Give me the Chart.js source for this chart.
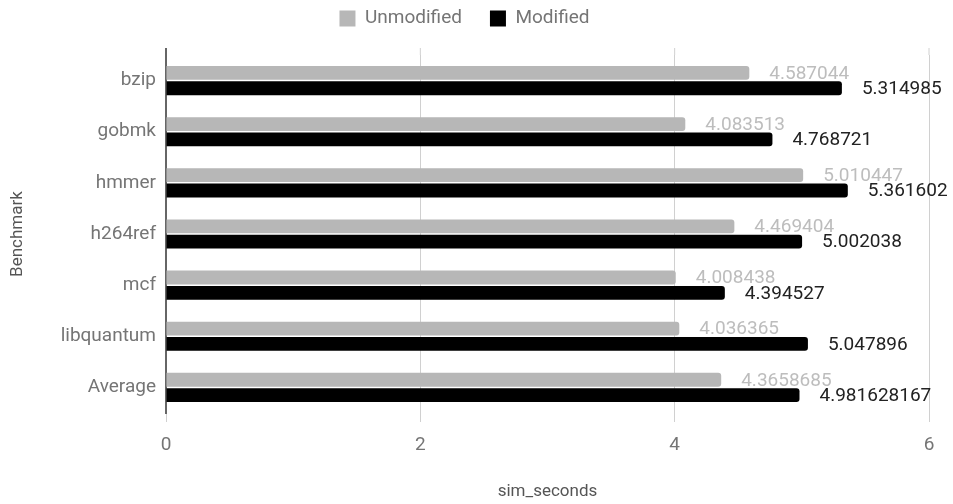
<!DOCTYPE html>
<html>
<head>
<meta charset="utf-8">
<script src="https://cdn.jsdelivr.net/npm/chart.js@4/dist/chart.umd.min.js"></script>
<style>
  html, body { margin: 0; padding: 0; background: #fff; }
  #wrap { width: 953px; height: 504px; }
</style>
</head>
<body>
<div id="wrap"><canvas id="chart"></canvas></div>
<script>
// values
const benchmarks = ['bzip', 'gobmk', 'hmmer', 'h264ref', 'mcf', 'libquantum', 'Average'];
const unmodified = [4.587044, 4.083513, 5.010447, 4.469404, 4.008438, 4.036365, 4.3658685];
const modified = [5.314985, 4.768721, 5.361602, 5.002038, 4.394527, 5.047896, 4.981628167];
const xTicks = [0, 2, 4, 6];

const labelColors = ['#bdbdbd', '#222222'];

// value labels at the end of each bar
const valueLabels = {
  id: 'valueLabels',
  afterDatasetsDraw(chart) {
    const ctx = chart.ctx;
    ctx.save();
    ctx.font = '19px Roboto';
    ctx.textBaseline = 'middle';
    ctx.textAlign = 'left';
    chart.data.datasets.forEach((ds, i) => {
      const meta = chart.getDatasetMeta(i);
      meta.data.forEach((bar, j) => {
        ctx.fillStyle = labelColors[i];
        ctx.fillText(String(ds.data[j]), bar.x + 20, bar.y + 1);
      });
    });
    ctx.restore();
  }
};

// grid lines run a little above the first band
const gridExtend = {
  id: 'gridExtend',
  beforeDatasetsDraw(chart) {
    const ctx = chart.ctx;
    const x = chart.scales.x;
    const top = chart.chartArea.top;
    ctx.save();
    xTicks.forEach(t => {
      const px = x.getPixelForValue(t);
      ctx.beginPath();
      ctx.strokeStyle = t === 0 ? '#666' : '#d0d0d0';
      ctx.lineWidth = t === 0 ? 2 : 1;
      ctx.moveTo(px, top - 7);
      ctx.lineTo(px, top);
      ctx.stroke();
    });
    ctx.restore();
  }
};

const legendHeight = {
  id: 'legendHeight',
  beforeInit(chart) {
    const fit = chart.legend.fit;
    chart.legend.fit = function () {
      fit.bind(chart.legend)();
      this.height = 74;
    };
  }
};

const ctx = document.getElementById('chart').getContext('2d');
new Chart(ctx, {
  type: 'bar',
  data: {
    labels: benchmarks,
    datasets: [{
      label: 'Unmodified',
      data: unmodified,
      backgroundColor: '#b7b7b7',
      borderRadius: 3,
      categoryPercentage: 0.6,
      barPercentage: 0.9
    }, {
      label: 'Modified',
      data: modified,
      backgroundColor: '#000000',
      borderRadius: 3,
      categoryPercentage: 0.6,
      barPercentage: 0.9
    }]
  },
  options: {
    indexAxis: 'y',
    responsive: true,
    maintainAspectRatio: false,
    animation: false,
    layout: { padding: { left: 0, right: 24, top: -19, bottom: 0 } },
    plugins: {
      legend: {
        position: 'top',
        labels: {
          font: { family: 'Roboto', size: 19 },
          color: '#757575',
          boxWidth: 16,
          boxHeight: 16,
          padding: 28
        }
      },
      tooltip: { enabled: false }
    },
    scales: {
      x: {
        min: 0,
        max: 6,
        afterBuildTicks(scale) {
          scale.ticks = xTicks.map(v => ({ value: v }));
        },
        afterFit(scale) { scale.height = 91; },
        grid: { color: '#d0d0d0', tickLength: 9, drawTicks: true },
        border: { display: false },
        ticks: {
          font: { family: 'Roboto', size: 19 },
          color: '#757575',
          padding: 12
        },
        title: {
          display: true,
          text: 'sim_seconds',
          font: { family: 'Roboto', size: 17 },
          color: '#555',
          padding: { top: 4, bottom: 2 }
        }
      },
      y: {
        afterFit(scale) { scale.width = 166; },
        grid: { display: false, drawTicks: false },
        border: { display: true, color: '#666', width: 2 },
        ticks: {
          font: { family: 'Roboto', size: 19 },
          color: '#757575',
          padding: 10
        },
        title: {
          display: true,
          text: 'Benchmark',
          font: { family: 'Roboto', size: 17 },
          color: '#555',
          padding: { top: 8, bottom: 0 }
        }
      }
    }
  },
  plugins: [legendHeight, gridExtend, valueLabels]
});
</script>
</body>
</html>
